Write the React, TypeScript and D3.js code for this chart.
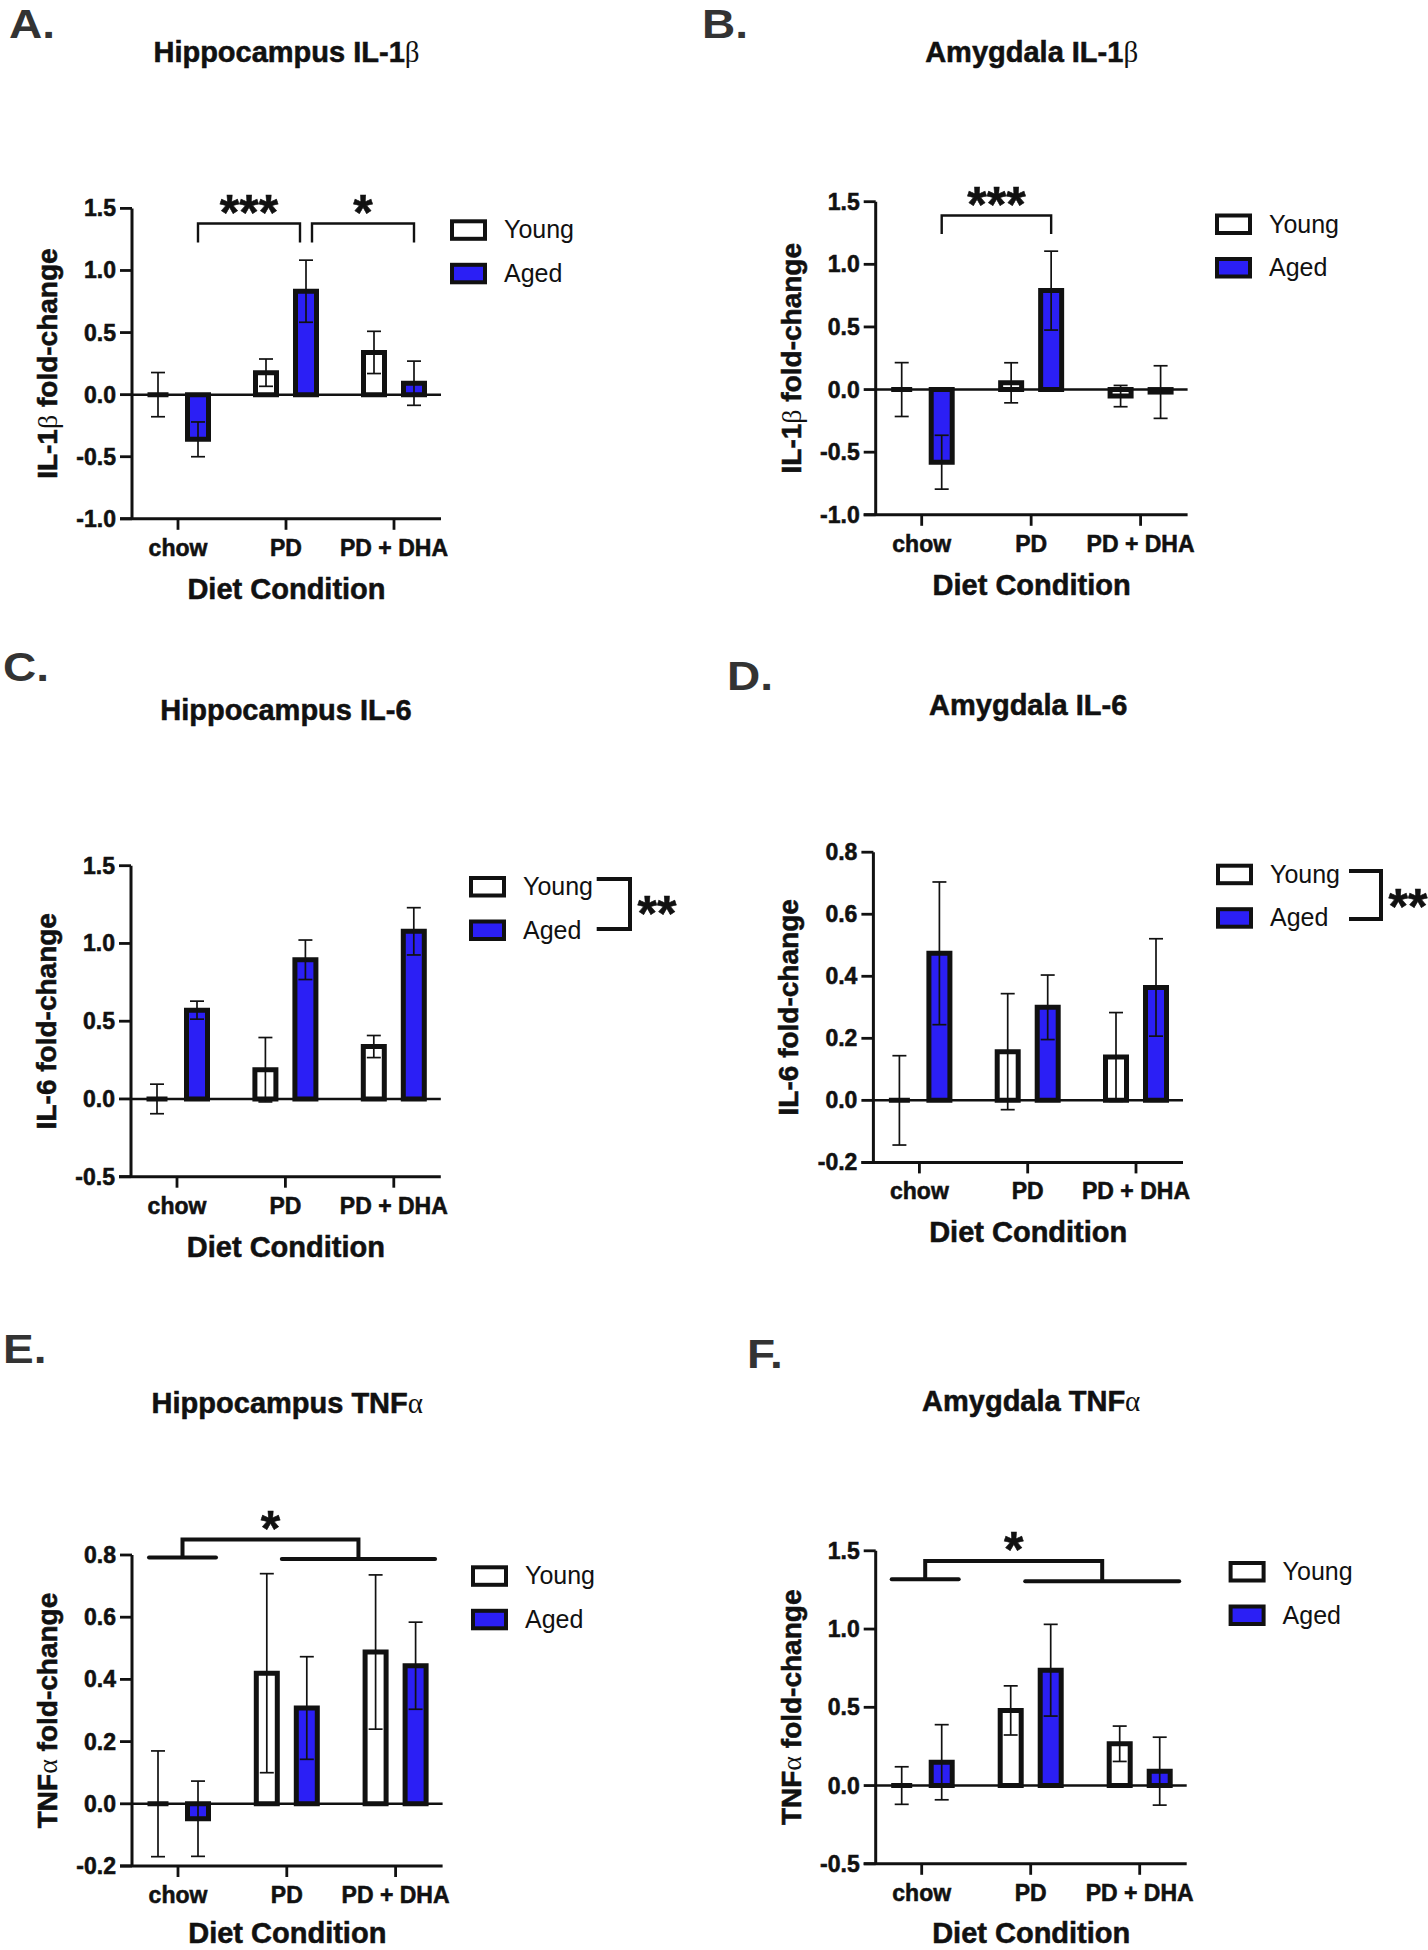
import React from 'react';
import * as d3 from 'd3';

// ---------- data ----------
const categories = ['chow', 'PD', 'PD + DHA'];
const groups = ['Young', 'Aged'];

// A. Hippocampus IL-1β
const hipIL1bYoung = [0.0, 0.177, 0.34];
const hipIL1bYoungSem = [0.178, 0.11, 0.17];
const hipIL1bAged = [-0.36, 0.833, 0.092];
const hipIL1bAgedSem = [0.14, 0.25, 0.178];

// B. Amygdala IL-1β
const amyIL1bYoung = [0.0, 0.054, -0.052];
const amyIL1bYoungSem = [0.215, 0.16, 0.085];
const amyIL1bAged = [-0.58, 0.79, -0.02];
const amyIL1bAgedSem = [0.215, 0.315, 0.21];

// C. Hippocampus IL-6
const hipIL6Young = [0.0, 0.188, 0.337];
const hipIL6YoungSem = [0.095, 0.207, 0.071];
const hipIL6Aged = [0.571, 0.895, 1.078];
const hipIL6AgedSem = [0.058, 0.127, 0.152];

// D. Amygdala IL-6
const amyIL6Young = [0.0, 0.157, 0.14];
const amyIL6YoungSem = [0.144, 0.187, 0.143];
const amyIL6Aged = [0.474, 0.3, 0.364];
const amyIL6AgedSem = [0.23, 0.104, 0.157];

// E. Hippocampus TNFα
const hipTNFYoung = [0.0, 0.42, 0.488];
const hipTNFYoungSem = [0.17, 0.32, 0.248];
const hipTNFAged = [-0.048, 0.308, 0.444];
const hipTNFAgedSem = [0.121, 0.165, 0.14];

// F. Amygdala TNFα
const amyTNFYoung = [0.0, 0.48, 0.267];
const amyTNFYoungSem = [0.12, 0.157, 0.113];
const amyTNFAged = [0.149, 0.737, 0.092];
const amyTNFAgedSem = [0.24, 0.293, 0.217];

// axis ticks
const ticksIL1b = [-1.0, -0.5, 0.0, 0.5, 1.0, 1.5];
const ticksHalf = [-0.5, 0.0, 0.5, 1.0, 1.5];
const ticksFifth = [-0.2, 0.0, 0.2, 0.4, 0.6, 0.8];

// ---------- style ----------
const SANS = 'Liberation Sans, Arial, Helvetica, sans-serif';
const SERIF = 'Liberation Serif, Times New Roman, serif';
const BLUE = '#2b1ff5';
const INK = '#111';
const BOLD_STROKE = 0.55;

const panels = [
  {
    letter: 'A.', letterPos: [9, 38],
    title: ['Hippocampus IL-1', 'β', ''], titleY: 62,
    yLabel: ['IL-1', 'β', ' fold-change'],
    axisX: 132, axisRight: 441, yTop: 208.4, yBot: 518.8,
    domain: [-1.0, 1.5], ticks: ticksIL1b,
    young: hipIL1bYoung, youngSem: hipIL1bYoungSem, aged: hipIL1bAged, agedSem: hipIL1bAgedSem,
    legend: [450, 219.3],
    brackets: [
      { from: [0, 20], to: [1, 14], top: 1.378, leg: 1.225, label: '***' },
      { from: [1, 26], to: [2, 20], top: 1.378, leg: 1.225, label: '*' },
    ],
  },
  {
    letter: 'B.', letterPos: [702, 38],
    title: ['Amygdala IL-1', 'β', ''], titleY: 62,
    yLabel: ['IL-1', 'β', ' fold-change'],
    axisX: 875.7, axisRight: 1187.6, yTop: 201.7, yBot: 514.8,
    domain: [-1.0, 1.5], ticks: ticksIL1b,
    young: amyIL1bYoung, youngSem: amyIL1bYoungSem, aged: amyIL1bAged, agedSem: amyIL1bAgedSem,
    legend: [1215, 213.5],
    brackets: [{ from: [0, 20], to: [1, 20], top: 1.39, leg: 1.242, label: '***' }],
  },
  {
    letter: 'C.', letterPos: [3, 681],
    title: ['Hippocampus IL-6', '', ''], titleY: 720,
    yLabel: ['IL-6 fold-change', '', ''],
    axisX: 131, axisRight: 440.8, yTop: 865.7, yBot: 1176.7,
    domain: [-0.5, 1.5], ticks: ticksHalf,
    young: hipIL6Young, youngSem: hipIL6YoungSem, aged: hipIL6Aged, agedSem: hipIL6AgedSem,
    legend: [469, 876],
    legendBracket: { x1: 596.7, x2: 630, y1: 879, y2: 929, starX: 657, starBase: 931 },
  },
  {
    letter: 'D.', letterPos: [727, 690],
    title: ['Amygdala IL-6', '', ''], titleY: 715,
    yLabel: ['IL-6 fold-change', '', ''],
    axisX: 873.4, axisRight: 1183, yTop: 852.2, yBot: 1162.4,
    domain: [-0.2, 0.8], ticks: ticksFifth,
    young: amyIL6Young, youngSem: amyIL6YoungSem, aged: amyIL6Aged, agedSem: amyIL6AgedSem,
    legend: [1216, 863.7],
    legendBracket: { x1: 1349, x2: 1381, y1: 871, y2: 919, starX: 1408, starBase: 924 },
  },
  {
    letter: 'E.', letterPos: [3, 1363],
    title: ['Hippocampus TNF', 'α', ''], titleY: 1413,
    yLabel: ['TNF', 'α', ' fold-change'],
    axisX: 132, axisRight: 442.6, yTop: 1555, yBot: 1866,
    domain: [-0.2, 0.8], ticks: ticksFifth,
    young: hipTNFYoung, youngSem: hipTNFYoungSem, aged: hipTNFAged, agedSem: hipTNFAgedSem,
    legend: [471, 1565.3],
    mainEffect: { left: [[0, -29], [0, 38]], leftY: 0.792, right: [[1, -5], [2, 39.5]], rightY: 0.787, top: 0.85 },
  },
  {
    letter: 'F.', letterPos: [747, 1368],
    title: ['Amygdala TNF', 'α', ''], titleY: 1411,
    yLabel: ['TNF', 'α', ' fold-change'],
    axisX: 875.7, axisRight: 1186.7, yTop: 1550.8, yBot: 1863.8,
    domain: [-0.5, 1.5], ticks: ticksHalf,
    young: amyTNFYoung, youngSem: amyTNFYoungSem, aged: amyTNFAged, agedSem: amyTNFAgedSem,
    legend: [1228.6, 1561],
    mainEffect: { left: [[0, -30], [0, 37]], leftY: 1.319, right: [[1, -5.5], [2, 39.5]], rightY: 1.305, top: 1.435 },
  },
];

const fmt = (v: number) => v.toFixed(1);
const STAR_FS = 50;

function Greek({ parts }: { parts: string[] }) {
  return (
    <>
      <tspan>{parts[0]}</tspan>
      {parts[1] ? (
        <tspan fontFamily={SERIF} fontWeight="normal" stroke="none">
          {parts[1]}
        </tspan>
      ) : null}
      {parts[2] ? <tspan>{parts[2]}</tspan> : null}
    </>
  );
}

const boldText = {
  fontFamily: SANS,
  fontWeight: 'bold',
  fill: INK,
  stroke: INK,
  strokeWidth: BOLD_STROKE,
};

function Panel({ p }: { p: any }) {
  const y = d3.scaleLinear().domain(p.domain).range([p.yBot, p.yTop]);
  const x = d3.scalePoint().domain(categories).range([p.axisX + 46, p.axisRight - 47]);
  const groupOffset = d3.scaleOrdinal<string, number>().domain(groups).range([-20, 20]);
  const cx = (i: number, dx = 0) => (x(categories[i]) as number) + dx;
  const midX = (p.axisX + p.axisRight) / 2;
  const barHalf = 10.5;
  const capHalf = 7;

  const series = [
    { g: 'Young', vals: p.young, sem: p.youngSem, fill: '#fff' },
    { g: 'Aged', vals: p.aged, sem: p.agedSem, fill: BLUE },
  ];

  return (
    <g>
      {/* panel letter */}
      <text
        transform={`translate(${p.letterPos[0]},${p.letterPos[1]}) scale(1.15,1)`}
        fontFamily={SANS} fontWeight="bold" fontSize={40} fill="#333"
      >
        {p.letter}
      </text>
      {/* title */}
      <text x={midX} y={p.titleY} textAnchor="middle" fontSize={29} {...boldText}>
        <Greek parts={p.title} />
      </text>
      {/* y label */}
      <text
        transform={`translate(${p.axisX - 75},${(p.yTop + p.yBot) / 2}) rotate(-90)`}
        textAnchor="middle" fontSize={28} {...boldText}
      >
        <Greek parts={p.yLabel} />
      </text>
      {/* x label */}
      <text x={midX} y={Math.min(p.yBot + 80, 1943)} textAnchor="middle" fontSize={29} {...boldText}>
        Diet Condition
      </text>

      {/* zero line */}
      <line x1={p.axisX} x2={p.axisRight} y1={y(0)} y2={y(0)} stroke={INK} strokeWidth={2.5} />

      {/* bars */}
      {series.map((s) =>
        s.vals.map((v: number, i: number) => {
          const c = cx(i, groupOffset(s.g));
          return (
            <path
              key={s.g + i}
              d={`M${c - barHalf},${y(0)}V${y(v)}H${c + barHalf}V${y(0)}Z`}
              fill={s.fill} stroke={INK} strokeWidth={5} strokeLinejoin="miter"
            />
          );
        })
      )}
      {/* error bars */}
      {series.map((s) =>
        s.vals.map((v: number, i: number) => {
          const c = cx(i, groupOffset(s.g));
          const hi = y(v + s.sem[i]);
          const lo = y(v - s.sem[i]);
          return (
            <g key={'e' + s.g + i} stroke={INK} strokeWidth={1.7} fill="none">
              <line x1={c} x2={c} y1={hi} y2={lo} />
              <line x1={c - capHalf} x2={c + capHalf} y1={hi} y2={hi} />
              <line x1={c - capHalf} x2={c + capHalf} y1={lo} y2={lo} />
            </g>
          );
        })
      )}

      {/* axes */}
      <line x1={p.axisX} x2={p.axisX} y1={p.yTop} y2={p.yBot} stroke={INK} strokeWidth={3} />
      <line x1={p.axisX - 12} x2={p.axisRight} y1={p.yBot} y2={p.yBot} stroke={INK} strokeWidth={3} />
      {p.ticks.map((t: number) => (
        <g key={'t' + t}>
          <line x1={p.axisX - 12} x2={p.axisX} y1={y(t)} y2={y(t)} stroke={INK} strokeWidth={2.8} />
          <text x={p.axisX - 16} y={y(t) + 8} textAnchor="end" fontSize={23} {...boldText}>
            {fmt(t)}
          </text>
        </g>
      ))}
      {categories.map((c) => (
        <g key={'c' + c}>
          <line x1={x(c)} x2={x(c)} y1={p.yBot} y2={p.yBot + 11} stroke={INK} strokeWidth={2.8} />
          <text x={x(c)} y={p.yBot + 37} textAnchor="middle" fontSize={23} {...boldText}>
            {c}
          </text>
        </g>
      ))}

      {/* legend */}
      {series.map((s, k) => {
        const lx = p.legend[0];
        const ly = p.legend[1] + k * 43.5;
        return (
          <g key={'l' + s.g}>
            <rect x={lx + 2} y={ly + 2} width={33} height={17.5} fill={s.fill} stroke={INK} strokeWidth={4} />
            <text x={lx + 54} y={ly + 19} fontFamily={SANS} fontSize={25} fill={INK}>
              {s.g}
            </text>
          </g>
        );
      })}

      {/* pairwise brackets */}
      {(p.brackets || []).map((b: any, k: number) => {
        const x1 = cx(b.from[0], b.from[1]);
        const x2 = cx(b.to[0], b.to[1]);
        const yt = y(b.top);
        const yl = y(b.leg);
        return (
          <g key={'b' + k}>
            <path d={`M${x1},${yl}V${yt}H${x2}V${yl}`} fill="none" stroke={INK} strokeWidth={2.4} />
            <text x={(x1 + x2) / 2} y={yt + 6.5} textAnchor="middle" fontSize={STAR_FS} {...boldText}>
              {b.label}
            </text>
          </g>
        );
      })}

      {/* legend bracket (age main effect) */}
      {p.legendBracket ? (
        <g>
          <path
            d={`M${p.legendBracket.x1},${p.legendBracket.y1}H${p.legendBracket.x2}V${p.legendBracket.y2}H${p.legendBracket.x1}`}
            fill="none" stroke={INK} strokeWidth={4}
          />
          <text x={p.legendBracket.starX} y={p.legendBracket.starBase} textAnchor="middle" fontSize={STAR_FS} {...boldText}>
            **
          </text>
        </g>
      ) : null}

      {/* diet main effect */}
      {p.mainEffect ? (() => {
        const m = p.mainEffect;
        const lx1 = cx(m.left[0][0], m.left[0][1]);
        const lx2 = cx(m.left[1][0], m.left[1][1]);
        const rx1 = cx(m.right[0][0], m.right[0][1]);
        const rx2 = cx(m.right[1][0], m.right[1][1]);
        const ly = y(m.leftY);
        const ry = y(m.rightY);
        const ty = y(m.top);
        const a = (lx1 + lx2) / 2;
        const b = (rx1 + rx2) / 2;
        return (
          <g>
            <g stroke={INK} strokeWidth={4} fill="none" strokeLinecap="round">
              <line x1={lx1} x2={lx2} y1={ly} y2={ly} />
              <line x1={rx1} x2={rx2} y1={ry} y2={ry} />
              <path d={`M${a},${ly}V${ty}H${b}V${ry}`} strokeLinecap="butt" />
            </g>
            <text x={(a + b) / 2} y={ty + 6.5} textAnchor="middle" fontSize={STAR_FS} {...boldText}>
              *
            </text>
          </g>
        );
      })() : null}
    </g>
  );
}

export default function App() {
  return (
    <svg
      width={1428}
      height={1950}
      viewBox="0 0 1428 1950"
      style={{ position: 'absolute', left: 0, top: 0, background: '#fff' }}
    >
      <rect x={0} y={0} width={1428} height={1950} fill="#fff" />
      {panels.map((p) => (
        <Panel key={p.letter} p={p} />
      ))}
    </svg>
  );
}
